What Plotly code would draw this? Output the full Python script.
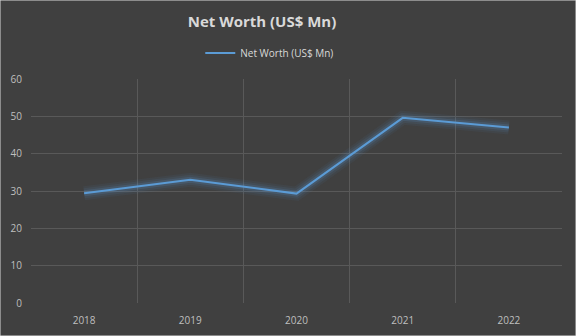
import plotly.graph_objects as go

years = ["2018", "2019", "2020", "2021", "2022"]
net_worth = [29.4, 33.0, 29.3, 49.6, 47.0]
series_name = "Net Worth (US$ Mn)"
y_ticks = [0, 10, 20, 30, 40, 50, 60]

fig = go.Figure()
# glow layers
for w, a in [(14, 0.06), (10, 0.09), (6, 0.16)]:
    fig.add_trace(go.Scatter(x=years, y=net_worth, mode="lines",
                             line=dict(color=f"rgba(91,155,213,{a})", width=w),
                             showlegend=False, hoverinfo="skip"))
fig.add_trace(go.Scatter(x=years, y=net_worth, mode="lines", name=series_name,
                         line=dict(color="#5b9bd5", width=2)))

fig.update_layout(
    width=576, height=336,
    paper_bgcolor="#404040", plot_bgcolor="#404040",
    margin=dict(l=31, r=14, t=79, b=33, autoexpand=False),
    title=dict(text="<b>Net Worth (US$ Mn)</b>", x=262/576, xanchor="center", y=1-22/336, yanchor="middle",
               font=dict(family="Open Sans", size=15, color="#d9d9d9")),
    legend=dict(orientation="h", x=259/576, xanchor="center", y=1-53/336, yref="container", yanchor="middle",
                font=dict(family="Open Sans", size=10, color="#d9d9d9"),
                bgcolor="rgba(0,0,0,0)"),
    showlegend=True,
    font=dict(family="Open Sans", size=10, color="#bfbfbf"),
)
fig.update_xaxes(type="category", range=[-0.5, 4.5], tickson="boundaries", showgrid=True,
                 gridcolor="#595959", gridwidth=1, showline=False, zeroline=False,
                 ticks="", ticklen=0, ticklabelstandoff=10, tickfont=dict(size=10, color="#bfbfbf"))
fig.update_yaxes(range=[0, 60], tickvals=y_ticks, showgrid=True, gridcolor="#595959",
                 gridwidth=1, zeroline=False, showline=False,
                 tickfont=dict(size=10, color="#bfbfbf"), ticks="", ticklabelstandoff=8)
fig.add_shape(type="rect", xref="paper", yref="paper", x0=-31/531, y0=-33/224, x1=1+14/531, y1=1+79/224,
              line=dict(color="#d9d9d9", width=1), layer="below")
fig.write_html("out.html")
